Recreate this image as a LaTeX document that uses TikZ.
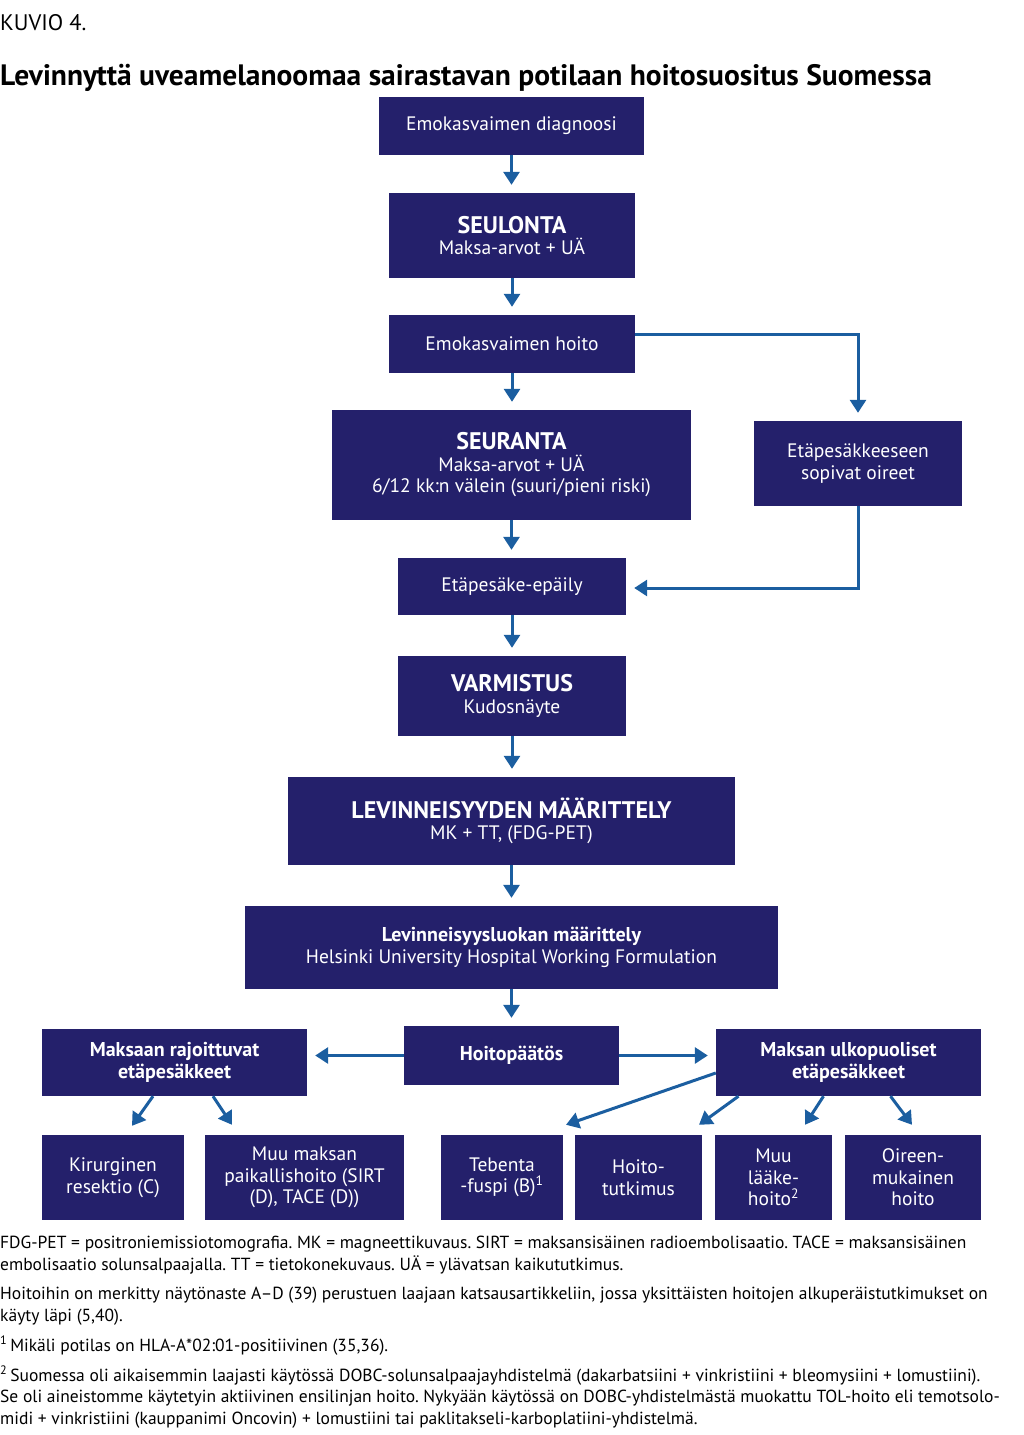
\documentclass[tikz,border=0pt]{standalone}
\usepackage{fontspec}
\setmainfont{PT Sans}
\usetikzlibrary{arrows.meta}
\frenchspacing
\definecolor{boxnavy}{RGB}{36,32,107}
\definecolor{arrowblue}{RGB}{27,94,160}
\tikzset{basic/.style={fill=boxnavy,text=white,align=center,inner sep=0pt,
                       font=\fontsize{19.5}{21.5}\selectfont}}
\tikzset{box/.style 2 args={basic,minimum width=#1pt,minimum height=#2pt}}
\tikzset{flow/.style={draw=arrowblue,line width=3pt,shorten >=8pt,
                      -{Triangle[width=16pt,length=13pt]}}}
\tikzset{slant/.style={flow,shorten >=0pt}}
\tikzset{note/.style={anchor=north west,align=left,inner sep=0pt,
                      font=\fontsize{17.5}{21.5}\selectfont}}
\newcommand{\hdr}[1]{{\fontsize{24}{27}\selectfont\bfseries #1}}
\newcommand{\bhdr}[1]{{\fontsize{20}{22}\selectfont\bfseries #1}}

\begin{document}
\begin{tikzpicture}[x=1pt,y=-1pt]
    \useasboundingbox (0,0) rectangle (1024,1435);

    % heading
    \node[anchor=base west,inner sep=0pt,font=\fontsize{22.5}{24}\selectfont] (kuvio) at (0,30) {KUVIO 4.};
    \node[anchor=base west,inner sep=0pt,font=\fontsize{29.5}{32}\selectfont\bfseries] (title) at (0,85)
        {Levinnyttä uveamelanoomaa sairastavan potilaan hoitosuositus Suomessa};

    % main chain
    \node[box={265}{58}] (diag) at (511.5,126) {Emokasvaimen diagnoosi};
    \node[box={246}{85}] (seul) at (512,235.5) {\hdr{SEULONTA}\\Maksa-arvot + UÄ};
    \node[box={246}{58}] (hoito) at (512,344) {Emokasvaimen hoito};
    \node[box={359}{110}] (seur) at (511.5,465)
        {\hdr{SEURANTA}\\Maksa-arvot + UÄ\\6/12 kk:n välein (suuri/pieni riski)};
    \node[box={208}{85}] (oireet) at (858,463.5) {Etäpesäkkeeseen\\sopivat oireet};
    \node[box={228}{57}] (epaily) at (512,586.5) {Etäpesäke-epäily};
    \node[box={228}{80}] (varm) at (512,696) {\hdr{VARMISTUS}\\Kudosnäyte};
    \node[box={447}{88}] (lev) at (511.5,821) {\hdr{LEVINNEISYYDEN MÄÄRITTELY}\\MK + TT, (FDG-PET)};
    \node[box={533}{83}] (luokka) at (511.5,947.5)
        {\bhdr{Levinneisyysluokan määrittely}\\Helsinki University Hospital Working Formulation};
    \node[box={215}{59}] (paatos) at (511.5,1055.5) {\bhdr{Hoitopäätös}};

    % branches
    \node[box={265}{67}] (rajoit) at (174.5,1062.5) {\bhdr{Maksaan rajoittuvat}\\\bhdr{etäpesäkkeet}};
    \node[box={265}{67}] (ulko) at (848.5,1062.5) {\bhdr{Maksan ulkopuoliset}\\\bhdr{etäpesäkkeet}};

    % treatments
    \node[box={142}{85}] (kir) at (113,1177.5) {Kirurginen\\resektio (C)};
    \node[box={199}{85}] (paik) at (304.5,1177.5) {Muu maksan\\paikallishoito (SIRT\\(D), TACE (D))};
    \node[box={122}{85}] (teb) at (502,1177.5) {Tebenta\\-fuspi (B)\textsuperscript{1}};
    \node[box={127}{85}] (tutk) at (638.5,1177.5) {Hoito-\\tutkimus};
    \node[box={117}{85}] (laake) at (773.5,1177.5) {Muu\\lääke-\\hoito\textsuperscript{2}};
    \node[box={136}{85}] (oire) at (913,1177.5) {Oireen-\\mukainen\\hoito};

    % arrows down the chain
    \foreach \a/\b in {diag/seul,seul/hoito,hoito/seur,seur/epaily,epaily/varm,varm/lev,lev/luokka,luokka/paatos}{
        \draw[flow] (\a.south) -- (\a.south |- \b.north);
    }
    \draw[flow] ([yshift=10pt]hoito.east) -| (oireet.north);
    \draw[flow] (oireet.south) |- ([yshift=-1.5pt]epaily.east);
    \draw[flow] (paatos.west) -- (paatos.west -| rajoit.east);
    \draw[flow] (paatos.east) -- (paatos.east -| ulko.west);

    % arrows to treatments
    \draw[slant] ([xshift=-21.5pt]rajoit.south) -- ([xshift=19pt,yshift=9pt]kir.north);
    \draw[slant] ([xshift=38.5pt]rajoit.south) -- ([xshift=-72.5pt,yshift=10pt]paik.north);
    \draw[slant] ([yshift=-10.5pt]ulko.west) -- ([xshift=64pt,yshift=10pt]teb.north);
    \draw[slant] ([xshift=-110pt]ulko.south) -- ([xshift=60.5pt,yshift=10pt]tutk.north);
    \draw[slant] ([xshift=-25pt]ulko.south) -- ([xshift=31.5pt,yshift=10pt]laake.north);
    \draw[slant] ([xshift=42pt]ulko.south) -- ([xshift=-1pt,yshift=10pt]oire.north);

    % notes
    \node[note] (abbr) at (0,1236) {FDG-PET = positroniemissiotomografia. MK = magneettikuvaus. SIRT = maksansisäinen radioembolisaatio. TACE = maksansisäinen\\
        embolisaatio solunsalpaajalla. TT = tietokonekuvaus. UÄ = ylävatsan kaikututkimus.};
    \node[note] (grade) at (0,1287) {Hoitoihin on merkitty näytönaste A–D (39) perustuen laajaan katsausartikkeliin, jossa yksittäisten hoitojen alkuperäistutkimukset on\\
        käyty läpi (5,40).};
    \node[note] (fn1) at (0,1336) {\textsuperscript{1}\,Mikäli potilas on HLA-A*02:01-positiivinen (35,36).};
    \node[note] (fn2) at (0,1366) {\textsuperscript{2}\,Suomessa oli aikaisemmin laajasti käytössä DOBC-solunsalpaajayhdistelmä (dakarbatsiini + vinkristiini + bleomysiini + lomustiini).\\
        Se oli aineistomme käytetyin aktiivinen ensilinjan hoito. Nykyään käytössä on DOBC-yhdistelmästä muokattu TOL-hoito eli temotsolo-\\
        midi + vinkristiini (kauppanimi Oncovin) + lomustiini tai paklitakseli-karboplatiini-yhdistelmä.};
\end{tikzpicture}
\end{document}
